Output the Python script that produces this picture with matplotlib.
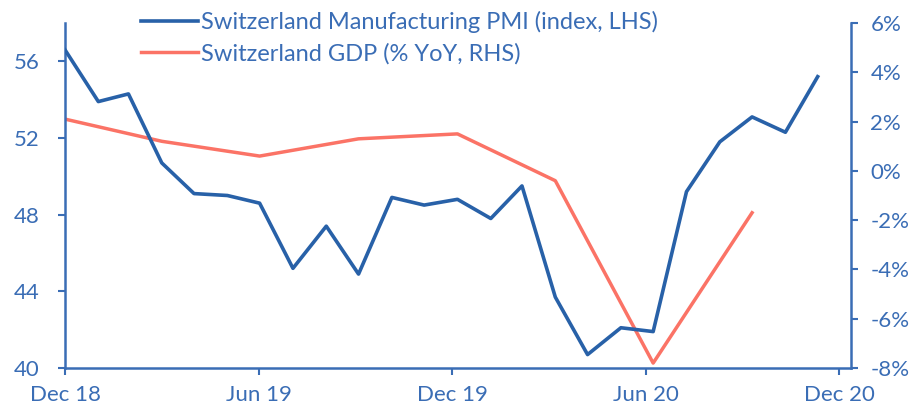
import matplotlib
matplotlib.use("Agg")
import matplotlib.pyplot as plt
import pandas as pd

plt.rcParams['font.family'] = ['Lato', 'DejaVu Sans']

# monthly PMI, Dec 2018 - Nov 2020
pmi_dates = pd.date_range("2018-12-31", periods=24, freq="ME")
pmi = [56.6, 53.9, 54.3, 50.7, 49.1, 49.0, 48.6, 45.2, 47.4, 44.9, 48.9, 48.5,
       48.8, 47.8, 49.5, 43.7, 40.7, 42.1, 41.9, 49.2, 51.8, 53.1, 52.3, 55.2]

# quarterly GDP % yoy, Q4 2018 - Q3 2020
gdp_dates = pd.date_range("2018-12-31", periods=8, freq="QE")
gdp = [2.1, 1.2, 0.6, 1.3, 1.5, -0.4, -7.8, -1.7]

left_ticks = [40, 44, 48, 52, 56]
right_ticks = [-8, -6, -4, -2, 0, 2, 4, 6]
x_labels = ["Dec 18", "Jun 19", "Dec 19", "Jun 20", "Dec 20"]

blue = "#2861a8"
salmon = "#fb7366"
axcol = "#3a6db5"

start = pd.Timestamp("2018-12-31")
# axis ticks every 180 days like the original chart
x_ticks = [start + pd.Timedelta(days=180 * i) for i in range(len(x_labels))]

fig = plt.figure(figsize=(9.12, 4.12), dpi=100)
ax = fig.add_axes([65/912, 44/412, 786/912, 345/412])
ax2 = ax.twinx()

l1, = ax.plot(pmi_dates, pmi, color=blue, lw=2.6, label="Switzerland Manufacturing PMI (index, LHS)", zorder=3)
l2, = ax2.plot(gdp_dates, gdp, color=salmon, lw=2.5, label="Switzerland GDP (% YoY, RHS)", zorder=2)
ax.set_zorder(ax2.get_zorder() + 1)
ax.patch.set_visible(False)

ax.set_ylim(40, 58)
ax2.set_ylim(-8, 6)
ax.set_xlim(start, pd.Timestamp("2020-12-31"))

ax.set_yticks(left_ticks)
ax2.set_yticks(right_ticks)
ax2.set_yticklabels([f"{t}%" for t in right_ticks])
for lab, t in zip(ax2.get_yticklabels(), right_ticks):
    lab.set_color("#ff0000" if t < 0 else axcol)

ax.set_xticks(x_ticks)
ax.set_xticklabels(x_labels)

for a in (ax, ax2):
    for s in a.spines.values():
        s.set_visible(False)
    a.tick_params(colors=axcol, labelsize=16, width=1.5, length=5)
ax.tick_params(axis="x", pad=7)
ax.tick_params(axis="y", labelcolor=axcol, pad=13)
ax2.tick_params(axis="y", pad=9)
ax.spines["left"].set_visible(True)
ax.spines["bottom"].set_visible(True)
ax2.spines["right"].set_visible(True)
for s in (ax.spines["left"], ax.spines["bottom"], ax2.spines["right"]):
    s.set_color(axcol)
    s.set_linewidth(1.8)

fig.legend(handles=[l1, l2], loc="upper left", bbox_to_anchor=(120/912, 1.025), frameon=False,
           fontsize=17, labelcolor=axcol, handlelength=2.4, handletextpad=0.15, labelspacing=0.42)

fig.savefig("out.png", dpi=100)
